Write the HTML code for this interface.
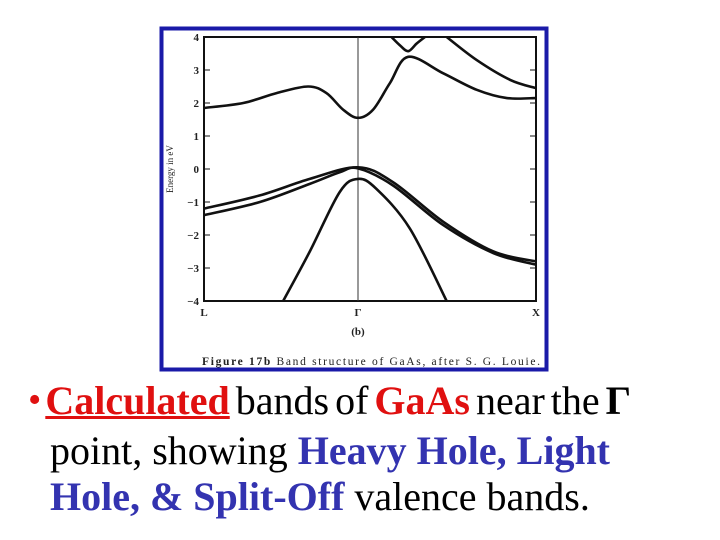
<!DOCTYPE html>
<html><head><meta charset="utf-8"><style>
body{margin:0;width:720px;height:540px;background:#fff;overflow:hidden;position:relative;font-family:"Liberation Serif",serif}
.ln{position:absolute;left:50px;font-size:40px;line-height:40px;white-space:nowrap;color:#000}
.r{color:#e01010;font-weight:bold}.b{color:#3333b0;font-weight:bold}
</style></head><body>
<svg width="720" height="375" style="position:absolute;left:0;top:0" font-family="Liberation Serif, serif">
<rect x="161.5" y="28.5" width="385" height="341" fill="#fff" stroke="#1a1aa8" stroke-width="4"/>
<g id="plot"></g>
</svg>
<div class="ln" style="left:28px;top:381px;word-spacing:-4px"><span style="color:#e01010;font-size:38px;position:relative;top:-2px">•</span><span class="r" style="text-decoration:underline;text-decoration-thickness:3px;margin-left:4px">Calculated</span> bands of <span class="r">GaAs</span> near the <b>Γ</b></div>
<div class="ln" style="top:431px">point, showing <span class="b">Heavy Hole, Light</span></div>
<div class="ln" style="top:477px"><span class="b">Hole, &amp; Split-Off</span> valence bands.</div>
<script>
const yTicks=[4,3,2,1,0,-1,-2,-3,-4];
const kLabels=["L","Γ","X"];
const kLabelPos=[-1,0,1];
const cbK=[-1,-0.745,-0.529,-0.324,-0.205,-0.097,0,0.085,0.179,0.282,0.479,0.667,0.836,1];
const cbE=[1.85,2.0,2.3,2.5,2.3,1.8,1.55,1.8,2.6,3.4,2.9,2.4,2.15,2.15];
const cb2K=[0.188,0.235,0.282,0.329,0.376];
const cb2E=[4.0,3.75,3.57,3.8,4.0];
const cb3K=[0.498,0.667,0.855,1];
const cb3E=[4.0,3.3,2.7,2.45];
const hhK=[-1,-0.637,-0.313,0,0.197,0.479,0.761,1];
const hhE=[-1.2,-0.8,-0.3,0.05,-0.4,-1.6,-2.5,-2.8];
const lhK=[-1,-0.637,-0.313,-0.119,0,0.197,0.479,0.761,1];
const lhE=[-1.4,-1.0,-0.45,-0.1,0.02,-0.5,-1.7,-2.55,-2.9];
const soK=[-0.486,-0.313,-0.119,0,0.103,0.291,0.498];
const soE=[-4,-2.5,-0.7,-0.3,-0.6,-1.8,-4.0];
const X0=204,XG=358,X1=536,Y0=169,SC=33;
function xs(k){return k<0?XG+k*(XG-X0):XG+k*(X1-XG);}
function ys(e){return Y0-e*SC;}
const NS="http://www.w3.org/2000/svg";
const g=document.getElementById('plot');
function el(t,a){const e=document.createElementNS(NS,t);for(const k in a)e.setAttribute(k,a[k]);g.appendChild(e);return e;}
const box=el('rect',{x:X0,y:ys(4),width:X1-X0,height:ys(-4)-ys(4),fill:'none',stroke:'#111','stroke-width':2});


const gl=el('line',{x1:xs(0),x2:xs(0),y1:ys(4),y2:ys(-4),stroke:'#333','stroke-width':1});


yTicks.forEach(v=>{
 const t=el('line',{x1:X0,x2:X0+6,y1:ys(v),y2:ys(v),stroke:'#111'});
 
 
 const t2=el('line',{x1:X1-6,x2:X1,y1:ys(v),y2:ys(v),stroke:'#111'});
 
 
 const tx=el('text',{x:X0-5,y:ys(v)+4,'font-size':11,'font-weight':'bold','text-anchor':'end',fill:'#222'});
 tx.textContent=v<0?'−'+(-v):v;
 
 
});
kLabels.forEach((l,i)=>{
 const t=el('text',{x:xs(kLabelPos[i]),y:ys(-4)+15,'font-size':11,'font-weight':'bold','text-anchor':'middle',fill:'#222'});
 t.textContent=l;
 
 
});
const yt=el('text',{transform:`translate(173,${Y0}) rotate(-90)`,'font-size':9,'text-anchor':'middle',fill:'#222'});
yt.textContent='Energy in eV';


const sb=el('text',{x:xs(0),y:ys(-4)+34,'font-size':11,'font-weight':'bold','text-anchor':'middle',fill:'#222'});
sb.textContent='(b)';


const cap=el('text',{x:202,y:365,'font-size':11.5,fill:'#222',textLength:338,lengthAdjust:'spacing'});
cap.innerHTML='<tspan font-weight="bold">Figure 17b</tspan>  Band structure of GaAs, after S. G. Louie.';


function path(K,E){
 const p=K.map((k,i)=>[xs(k),ys(E[i])]);let d=`M${p[0][0]},${p[0][1]}`;
 for(let i=0;i<p.length-1;i++){const a=p[Math.max(0,i-1)],b=p[i],c=p[i+1],e=p[Math.min(p.length-1,i+2)];
 d+=` C${b[0]+(c[0]-a[0])/6},${b[1]+(c[1]-a[1])/6} ${c[0]-(e[0]-b[0])/6},${c[1]-(e[1]-b[1])/6} ${c[0]},${c[1]}`;}
 return d;}
[[cbK,cbE,'conduction-band'],[cb2K,cb2E,'upper-band-gamma'],[cb3K,cb3E,'upper-band-x'],[hhK,hhE,'heavy-hole-band'],[lhK,lhE,'light-hole-band'],[soK,soE,'split-off-band']].forEach(s=>{
 const p=el('path',{d:path(s[0],s[1]),fill:'none',stroke:'#111','stroke-width':2.6});
 
 
});
</script>
</body></html>
